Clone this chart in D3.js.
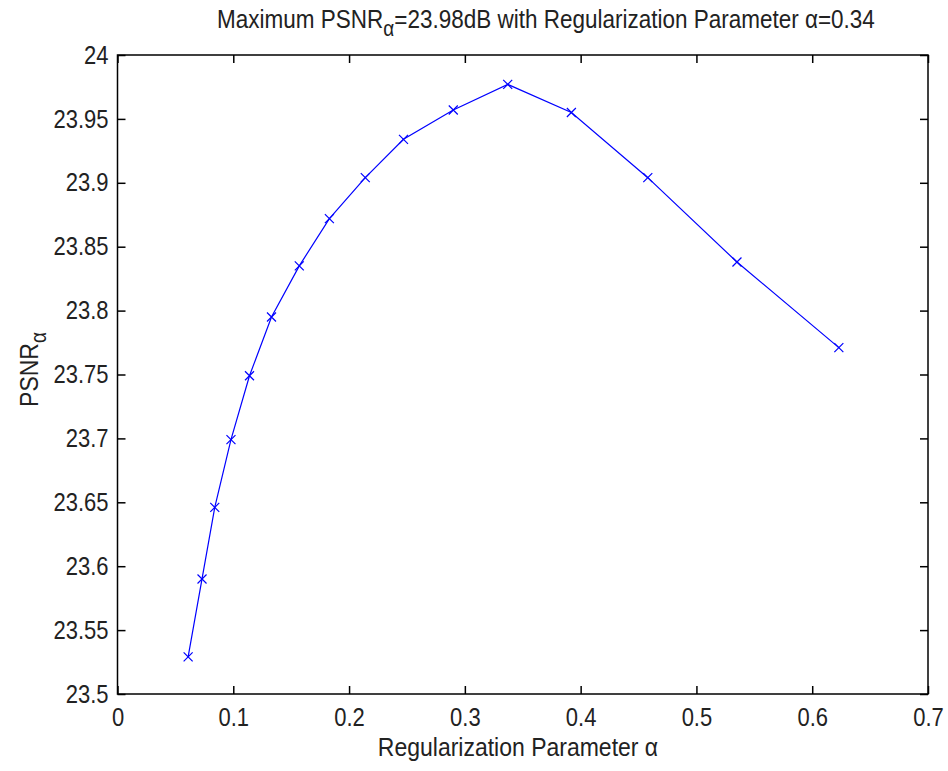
<!DOCTYPE html>
<html>
<head>
<meta charset="utf-8">
<script src="https://cdn.jsdelivr.net/npm/d3@7"></script>
<style>
  body { margin: 0; background: #fff; }
  text { font-family: "Liberation Sans", Arial, sans-serif; fill: #222; }
  /* MATLAB's screen font is taller than it is wide */
  text.tall { transform-box: fill-box; transform-origin: center; transform: scaleY(1.15); }
</style>
</head>
<body>
<svg id="chart" width="948" height="771"></svg>
<script>
// regularization parameter alpha vs PSNR
const alphaValues = [0.061, 0.073, 0.084, 0.098, 0.114, 0.133, 0.157, 0.183, 0.214, 0.247, 0.290, 0.337, 0.392, 0.458, 0.535, 0.623];
const psnrValues = [23.529, 23.590, 23.646, 23.699, 23.749, 23.795, 23.835, 23.872, 23.904, 23.934, 23.957, 23.977, 23.955, 23.904, 23.838, 23.771];
const xTicks = [0, 0.1, 0.2, 0.3, 0.4, 0.5, 0.6, 0.7];
const yTicks = [23.5, 23.55, 23.6, 23.65, 23.7, 23.75, 23.8, 23.85, 23.9, 23.95, 24];

const svg = d3.select("#chart");
const width = +svg.attr("width");
const height = +svg.attr("height");
const margin = { top: 55, right: 20, bottom: 77, left: 117.5 };

const x = d3.scaleLinear().domain([0, 0.7]).range([margin.left, width - margin.right]);
const y = d3.scaleLinear().domain([23.5, 24]).range([height - margin.bottom, margin.top]);

const tickLen = 8;
const tickFmt = d => String(+d.toFixed(2));
const fontSize = "22px";

// box
svg.append("rect")
  .attr("x", x(0)).attr("y", y(24))
  .attr("width", x(0.7) - x(0)).attr("height", y(23.5) - y(24))
  .attr("fill", "none").attr("stroke", "#000").attr("stroke-width", 1.5);

// axes with inward ticks on all four sides
svg.append("g")
  .attr("transform", `translate(0,${y(23.5)})`)
  .call(d3.axisBottom(x).tickValues(xTicks).tickSizeInner(-tickLen).tickSizeOuter(0).tickPadding(15).tickFormat(tickFmt));
svg.append("g")
  .attr("transform", `translate(${x(0)},0)`)
  .call(d3.axisLeft(y).tickValues(yTicks).tickSizeInner(-tickLen).tickSizeOuter(0).tickPadding(9).tickFormat(tickFmt));
svg.append("g")
  .attr("transform", `translate(0,${y(24)})`)
  .call(d3.axisTop(x).tickValues(xTicks).tickSizeInner(-tickLen).tickSizeOuter(0).tickFormat(""));
svg.append("g")
  .attr("transform", `translate(${x(0.7)},0)`)
  .call(d3.axisRight(y).tickValues(yTicks).tickSizeInner(-tickLen).tickSizeOuter(0).tickFormat(""));

svg.selectAll(".domain").remove();
svg.selectAll(".tick line").attr("stroke", "#000").attr("stroke-width", 1.5);
svg.selectAll(".tick text").attr("font-size", fontSize).attr("fill", "#222").classed("tall", true);

const points = alphaValues.map((a, i) => [a, psnrValues[i]]);

// line
svg.append("path")
  .datum(points)
  .attr("fill", "none")
  .attr("stroke", "#0000ff")
  .attr("stroke-width", 1.2)
  .attr("d", d3.line().x(d => x(d[0])).y(d => y(d[1])));

// x markers
const m = 4.5;
svg.append("g").selectAll("path")
  .data(points)
  .join("path")
  .attr("stroke", "#0000ff")
  .attr("stroke-width", 1.2)
  .attr("fill", "none")
  .attr("d", d => {
    const px = x(d[0]), py = y(d[1]);
    return `M${px - m},${py - m}L${px + m},${py + m}M${px - m},${py + m}L${px + m},${py - m}`;
  });

// title
const title = svg.append("text")
  .attr("class", "tall")
  .attr("x", 546)
  .attr("y", 27)
  .attr("text-anchor", "middle")
  .attr("font-size", "22.5px");
title.append("tspan").text("Maximum PSNR");
title.append("tspan").attr("dy", 7).attr("font-size", "19px").text("α");
title.append("tspan").attr("dy", -7).text("=23.98dB with Regularization Parameter α=0.34");

// x label
svg.append("text")
  .attr("class", "tall")
  .attr("x", 518)
  .attr("y", 755)
  .attr("text-anchor", "middle")
  .attr("font-size", "23px")
  .text("Regularization Parameter α");

// y label
const ylab = svg.append("g")
  .attr("transform", `translate(37,${(y(23.5) + y(24)) / 2 - 5}) rotate(-90)`)
  .append("text")
  .attr("class", "tall")
  .attr("text-anchor", "middle")
  .attr("font-size", "23px");
ylab.append("tspan").text("PSNR");
ylab.append("tspan").attr("dy", 7).attr("font-size", "19px").text("α");
</script>
</body>
</html>
